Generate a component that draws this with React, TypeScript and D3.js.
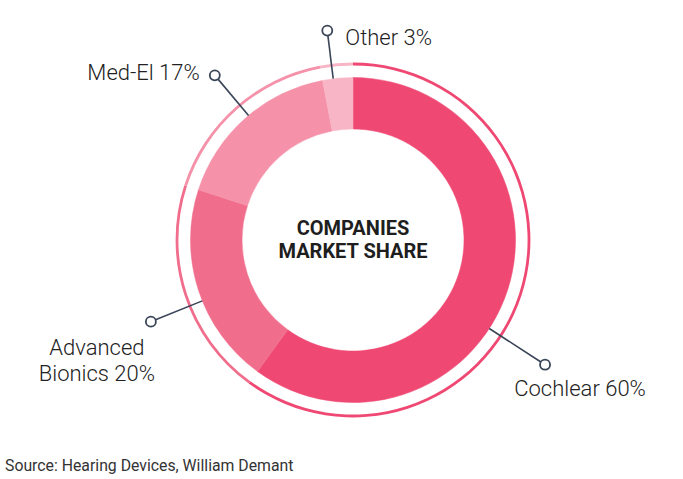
import * as d3 from 'd3'
import React from 'react'

const companies = ['Cochlear', 'Advanced Bionics', 'Med-El', 'Other']
const shares = [60, 20, 17, 3]
const labelLines = [['Cochlear 60%'], ['Advanced', 'Bionics 20%'], ['Med-El 17%'], ['Other 3%']]
const colors = ['#ef4873', '#f16d8c', '#f591a8', '#f8b5c5']
// leader line angle (deg, clockwise from top) and length of each callout
const leaderAngles = [123, 248, 320, 353]
const leaderEnds = [229, 218, 215, 211]

const W = 683
const H = 479
const cx = 353
const cy = 240
const rOuter = 162.5
const rInner = 111
const rRing = 176

const App = () => {
  const pie = d3
    .pie<number>()
    .sort(null)
    .value((d) => d)
  const arcs = pie(shares)
  const arc = d3.arc<d3.PieArcDatum<number>>().innerRadius(rInner).outerRadius(rOuter)
  const ring = d3.arc<d3.PieArcDatum<number>>().innerRadius(rRing - 1.4).outerRadius(rRing + 1.4)

  const pt = (deg: number, r: number) => {
    const a = (deg * Math.PI) / 180
    return [cx + r * Math.sin(a), cy - r * Math.cos(a)]
  }

  // text placement relative to the little circle of each callout
  const labelOffset = [
    { dx: 35, dy: 31, anchor: 'middle' },
    { dx: -54, dy: 33, anchor: 'middle' },
    { dx: -15, dy: 5, anchor: 'end' },
    { dx: 18, dy: 14, anchor: 'start' },
  ]

  return (
    <svg width={W} height={H} style={{ position: 'absolute', left: 0, top: 0 }}>
      <rect width={W} height={H} fill='#fff' />
      <g transform={`translate(${cx}, ${cy})`}>
        {arcs.map((a, i) => (
          <path key={`seg-${i}`} d={arc(a) || ''} fill={colors[i]} stroke={colors[i]} strokeWidth={0.5} />
        ))}
        {arcs.map((a, i) => (
          <path key={`ring-${i}`} d={ring(a) || ''} fill={colors[i]} />
        ))}
      </g>
      {companies.map((c, i) => {
        const [x1, y1] = pt(leaderAngles[i], rOuter)
        const [x2, y2] = pt(leaderAngles[i], leaderEnds[i] - 5)
        const [ex, ey] = pt(leaderAngles[i], leaderEnds[i])
        const off = labelOffset[i]
        return (
          <g key={c}>
            <line x1={x1} y1={y1} x2={x2} y2={y2} stroke='#3a4558' strokeWidth={1.6} />
            <circle cx={ex} cy={ey} r={5} fill='#fff' stroke='#3a4558' strokeWidth={1.8} />
            <text
              x={ex + off.dx}
              y={ey + off.dy}
              textAnchor={off.anchor}
              fontFamily='Roboto'
              fontWeight={300}
              fontSize={22}
              fill='#222'
            >
              {labelLines[i].map((t, j) => (
                <tspan key={j} x={ex + off.dx} dy={j === 0 ? 0 : 26.5}>
                  {t}
                </tspan>
              ))}
            </text>
          </g>
        )
      })}
      <text x={cx} y={235} textAnchor='middle' fontFamily='Roboto' fontWeight={700} fontSize={20} fill='#1e1e1e'>
        COMPANIES
      </text>
      <text x={cx} y={258} textAnchor='middle' fontFamily='Roboto' fontWeight={700} fontSize={20} fill='#1e1e1e'>
        MARKET SHARE
      </text>
      <text x={5} y={471} fontFamily='Roboto' fontWeight={400} fontSize={15.8} fill='#333'>
        Source: Hearing Devices, William Demant
      </text>
    </svg>
  )
}

export default App
